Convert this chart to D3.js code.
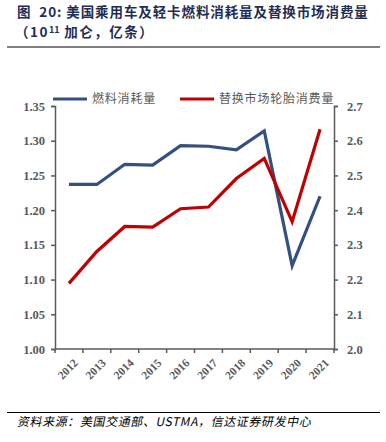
<!DOCTYPE html>
<html>
<head>
<meta charset="utf-8">
<script src="https://cdn.jsdelivr.net/npm/d3@7"></script>
<style>
  body { margin: 0; background: #fff; }
  svg { display: block; }
  .num { font-family: "Liberation Serif", "DejaVu Serif", serif; font-weight: bold; }
</style>
</head>
<body>
<div id="chart"></div>
<script>
const years = ["2012", "2013", "2014", "2015", "2016", "2017", "2018", "2019", "2020", "2021"];
const fuel = [1.237, 1.237, 1.266, 1.265, 1.293, 1.292, 1.287, 1.314, 1.120, 1.220];
const tires = [2.189, 2.281, 2.353, 2.351, 2.404, 2.409, 2.491, 2.549, 2.367, 2.633];
const leftTicks = [1.00, 1.05, 1.10, 1.15, 1.20, 1.25, 1.30, 1.35];
const rightTicks = [2.0, 2.1, 2.2, 2.3, 2.4, 2.5, 2.6, 2.7];
const seriesNames = ["燃料消耗量", "替换市场轮胎消费量"];

const width = 386;
const height = 442;
const margin = { left: 55, right: 52, top: 106, bottom: 93 };

const svg = d3.select("#chart")
  .append("svg")
  .attr("width", width)
  .attr("height", height);

const gray = "#595959";

// title, two lines
const titleFont = "'Noto Sans CJK SC', sans-serif";
svg.append("text")
  .attr("x", 17).attr("y", 16.5)
  .attr("font-family", titleFont)
  .attr("font-weight", "bold")
  .attr("font-size", 13.5)
  .attr("letter-spacing", 0.9)
  .attr("fill", "#1f2d55")
  .style("white-space", "pre")
  .text("图  20: 美国乘用车及轻卡燃料消耗量及替换市场消费量");

const t2 = svg.append("text")
  .attr("x", 15).attr("y", 36.5)
  .attr("font-family", titleFont)
  .attr("font-weight", "bold")
  .attr("font-size", 13.5)
  .attr("letter-spacing", 1.5)
  .attr("fill", "#1f2d55");
t2.append("tspan").text("（10");
t2.append("tspan").attr("dy", -4).attr("font-size", 9).attr("letter-spacing", 0).text("11");
t2.append("tspan").attr("dy", 4).text(" 加仑，亿条）");

svg.append("line")
  .attr("x1", 7).attr("x2", 380)
  .attr("y1", 47).attr("y2", 47)
  .attr("stroke", "#7f7f7f")
  .attr("stroke-width", 2);

const x = d3.scaleBand()
  .domain(years)
  .range([margin.left, width - margin.right]);

const yL = d3.scaleLinear()
  .domain([1.0, 1.35])
  .range([height - margin.bottom, margin.top]);

const yR = d3.scaleLinear()
  .domain([2.0, 2.7])
  .range([height - margin.bottom, margin.top]);

const gl = svg.append("g")
  .attr("transform", `translate(${margin.left},0)`)
  .call(d3.axisLeft(yL).tickValues(leftTicks).tickFormat(d3.format(".2f")).tickSizeOuter(0).tickSize(4).tickPadding(6));

const gr = svg.append("g")
  .attr("transform", `translate(${width - margin.right},0)`)
  .call(d3.axisRight(yR).tickValues(rightTicks).tickFormat(d3.format(".1f")).tickSizeOuter(0).tickSize(4).tickPadding(9));

// x axis, ticks between categories
const gx = svg.append("g")
  .attr("transform", `translate(0,${height - margin.bottom})`);
gx.append("line")
  .attr("x1", margin.left).attr("x2", width - margin.right)
  .attr("stroke", gray).attr("stroke-width", 1.5);
gx.selectAll(".xtick")
  .data(years.concat(["end"]))
  .enter().append("line")
  .attr("x1", (d, i) => i < years.length ? x(d) : x.range()[1])
  .attr("x2", (d, i) => i < years.length ? x(d) : x.range()[1])
  .attr("y1", 0).attr("y2", 4)
  .attr("stroke", gray).attr("stroke-width", 1.5);
gx.selectAll(".xlabel")
  .data(years)
  .enter().append("text")
  .attr("class", "num")
  .attr("transform", d => `translate(${x(d) + x.bandwidth() / 2 + 4},${9}) rotate(-45)`)
  .attr("text-anchor", "end")
  .attr("dy", "0.7em")
  .attr("font-size", 11.5)
  .attr("fill", gray)
  .text(d => d);

[gl, gr].forEach(g => {
  g.select(".domain").attr("stroke", gray).attr("stroke-width", 1.5);
  g.selectAll(".tick line").attr("stroke", gray).attr("stroke-width", 1.5);
  g.selectAll(".tick text")
    .attr("class", "num")
    .attr("font-family", null)
    .attr("font-size", 12.5)
    .attr("fill", gray);
});

const cx = d => x(d) + x.bandwidth() / 2;

svg.append("path")
  .datum(fuel)
  .attr("fill", "none")
  .attr("stroke", "#34507f")
  .attr("stroke-width", 3.2)
  .attr("d", d3.line().x((d, i) => cx(years[i])).y(d => yL(d)));

svg.append("path")
  .datum(tires)
  .attr("fill", "none")
  .attr("stroke", "#c00000")
  .attr("stroke-width", 3.2)
  .attr("d", d3.line().x((d, i) => cx(years[i])).y(d => yR(d)));

// legend
const legendItems = [
  { name: seriesNames[0], color: "#34507f", x: 53 },
  { name: seriesNames[1], color: "#c00000", x: 180 }
];
const lg = svg.selectAll(".legend")
  .data(legendItems)
  .enter().append("g")
  .attr("transform", d => `translate(${d.x},99)`);
lg.append("line")
  .attr("x1", 0).attr("x2", 34)
  .attr("stroke", d => d.color)
  .attr("stroke-width", 3.2);
lg.append("text")
  .attr("x", 39)
  .attr("dy", "0.35em")
  .attr("font-family", "'Noto Sans CJK SC', sans-serif")
  .attr("font-size", 12)
  .attr("letter-spacing", 0.8)
  .attr("fill", gray)
  .text(d => d.name);

// source note
svg.append("line")
  .attr("x1", 7).attr("x2", 380)
  .attr("y1", 412.5).attr("y2", 412.5)
  .attr("stroke", "#000")
  .attr("stroke-width", 1);
svg.append("text")
  .attr("transform", "translate(17,426) skewX(-12)")
  .attr("font-family", "'Noto Sans CJK SC', sans-serif")
  .attr("font-size", 12)
  .attr("letter-spacing", 0.6)
  .attr("fill", "#000")
  .text("资料来源：美国交通部、USTMA，信达证券研发中心");
</script>
</body>
</html>
